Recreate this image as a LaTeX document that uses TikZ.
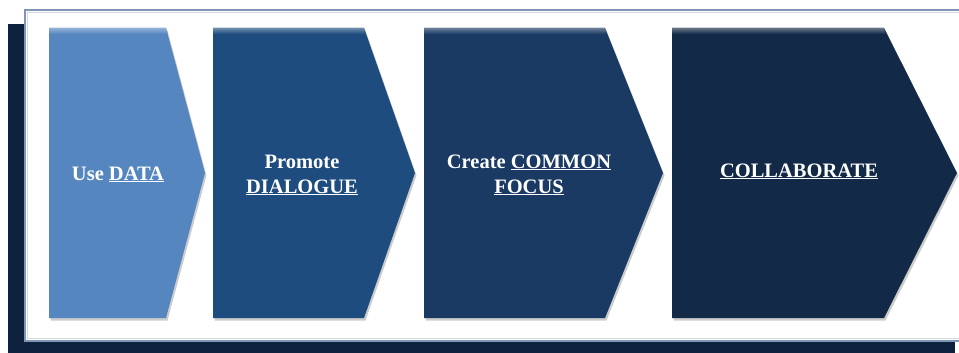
\documentclass[tikz,border=0pt]{standalone}
\usepackage{fontspec}
\setmainfont{Liberation Serif}
\usetikzlibrary{shadows}
\definecolor{navy}{HTML}{0D213F}
\definecolor{framegray}{HTML}{7F96B7}
\definecolor{stepA}{HTML}{5586C0}
\definecolor{stepB}{HTML}{1E4C7E}
\definecolor{stepC}{HTML}{1A3A64}
\definecolor{stepD}{HTML}{122A47}
\tikzset{
	every text node part/.style= {
		align=center
	},
	steplabel/.style= {
		white,
		anchor=base,
		font=\bfseries\fontsize{20.5}{25}\selectfont
	},
	chevron/.style= {
		drop shadow={shadow xshift=1.5pt, shadow yshift=-2.5pt, opacity=0.4}
	}
}

\begin{document}
\begin{tikzpicture}[x=1pt, y=-1pt]

	\useasboundingbox (0,0) rectangle (959,353);
	\fill[white] (0,0) rectangle (959,353);

	% dark backing and framed panel
	\fill[navy] (8,24) rectangle (955,353);
	\fill[white] (25,10) rectangle (970,341);
	\draw[framegray, line width=2.5pt] (25,10) rectangle (970,341);
	\draw[framegray!35!white, line width=0.7pt] (27.5,12.5) rectangle (967,338.5);

	% the four steps
	\foreach \l/\c/\t/\col in {49/166/205/stepA, 213/364/415/stepB, 424/605/663/stepC, 672/884/957/stepD}
	{
		\fill[chevron, \col] (\l,28) -- (\c,28) -- (\t,173) -- (\c,318) -- (\l,318) -- cycle;
		\shade[top color=\col!65!white, bottom color=\col] (\l,28) -- (\c,28) -- (\c+1.7,34) -- (\l,34) -- cycle;
	}

	\node (use)[steplabel] at (118,180) {Use \underline{DATA}};
	\node (promote)[steplabel] at (302,193) {Promote\\\underline{DIALOGUE}};
	\node (create)[steplabel] at (529,193) {Create \underline{COMMON}\\\underline{FOCUS}};
	\node (collab)[steplabel] at (799,177) {\underline{COLLABORATE}};

\end{tikzpicture}
\end{document}
